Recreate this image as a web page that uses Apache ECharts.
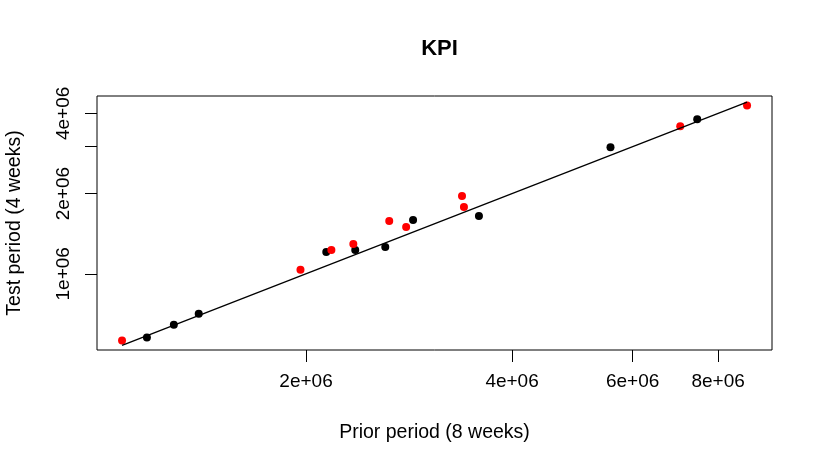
<!DOCTYPE html>
<html>
<head>
<meta charset="utf-8">
<script src="https://cdn.jsdelivr.net/npm/echarts@6/dist/echarts.min.js"></script>
<style>
html,body{margin:0;padding:0;background:#fff;}
#chart{width:822px;height:470px;}
</style>
</head>
<body>
<div id="chart"></div>
<script>
// Data (log-log scatter)
const blackX = [1.171e6, 1.282e6, 1.394e6, 2.141e6, 2.360e6, 2.611e6, 2.867e6, 3.578e6, 5.570e6, 7.457e6];
const blackY = [5.764e5, 6.446e5, 7.087e5, 1.208e6, 1.229e6, 1.262e6, 1.592e6, 1.648e6, 2.985e6, 3.799e6];
const redX = [1.077e6, 1.963e6, 2.178e6, 2.345e6, 2.646e6, 2.801e6, 3.380e6, 3.402e6, 7.043e6, 8.818e6];
const redY = [5.616e5, 1.035e6, 1.229e6, 1.295e6, 1.578e6, 1.499e6, 1.957e6, 1.780e6, 3.577e6, 4.285e6];
const lineX = [1.077e6, 8.818e6];
const lineY = [5.385e5, 4.409e6];

const xTickValues = [2e6, 4e6, 6e6, 8e6];
const xTickLabels = ['2e+06', '4e+06', '6e+06', '8e+06'];
const yTickValues = [1e6, 2e6, 3e6, 4e6];
const yLabelValues = [1e6, 2e6, 4e6];
const yTickLabels = ['1e+06', '2e+06', '4e+06'];

const FONT = '"Liberation Sans", Arial, Helvetica, sans-serif';

function pairs(xs, ys) { return xs.map((x, i) => [x, ys[i]]); }
function labelFor(values, labels) {
  return function (v) {
    for (let i = 0; i < values.length; i++) {
      if (Math.abs(v - values[i]) / values[i] < 1e-6) return labels[i];
    }
    return '';
  };
}

const chart = echarts.init(document.getElementById('chart'), null, {renderer: 'canvas'});
chart.setOption({
  backgroundColor: '#ffffff',
  animation: false,
  title: {
    text: 'KPI',
    left: 434.5,
    textAlign: 'center',
    top: 33,
    textStyle: {fontFamily: FONT, fontSize: 22, fontWeight: 'bold', color: '#000'}
  },
  grid: {
    left: 97, right: 50, top: 96, bottom: 120,
    show: true, borderColor: '#000', borderWidth: 1, backgroundColor: 'transparent',
    containLabel: false, outerBoundsMode: 'none'
  },
  xAxis: {
    type: 'log',
    min: 9.90e5,
    max: 9.59e6,
    axisLine: {show: false},
    splitLine: {show: false},
    minorTick: {show: false},
    axisTick: {show: true, length: 12, customValues: xTickValues, lineStyle: {color: '#000', width: 1}},
    axisLabel: {
      customValues: xTickValues,
      formatter: labelFor(xTickValues, xTickLabels),
      margin: 22,
      fontFamily: FONT, fontSize: 19, color: '#000'
    },
    name: 'Prior period (8 weeks)',
    nameLocation: 'middle',
    nameGap: 73,
    nameTextStyle: {fontFamily: FONT, fontSize: 19.5, color: '#000'}
  },
  yAxis: {
    type: 'log',
    min: 5.177e5,
    max: 4.648e6,
    axisLine: {show: false},
    splitLine: {show: false},
    minorTick: {show: false},
    axisTick: {show: true, length: 12, customValues: yTickValues, lineStyle: {color: '#000', width: 1}},
    axisLabel: {
      customValues: yLabelValues,
      formatter: labelFor(yLabelValues, yTickLabels),
      rotate: 90,
      margin: 24,
      fontFamily: FONT, fontSize: 19, color: '#000'
    },
    name: 'Test period (4 weeks)',
    nameLocation: 'middle',
    nameRotate: 90,
    nameGap: 72,
    nameTextStyle: {fontFamily: FONT, fontSize: 19.5, color: '#000'}
  },
  series: [
    {
      type: 'scatter',
      data: pairs(blackX, blackY),
      symbol: 'circle',
      symbolSize: 8,
      itemStyle: {color: '#000', opacity: 1},
      z: 2
    },
    {
      type: 'scatter',
      data: pairs(redX, redY),
      symbol: 'circle',
      symbolSize: 8,
      itemStyle: {color: '#ff0000', opacity: 1},
      z: 3
    },
    {
      type: 'line',
      data: pairs(lineX, lineY),
      showSymbol: false,
      symbol: 'none',
      lineStyle: {color: '#000', width: 1.3},
      z: 4
    }
  ]
});
</script>
</body>
</html>
